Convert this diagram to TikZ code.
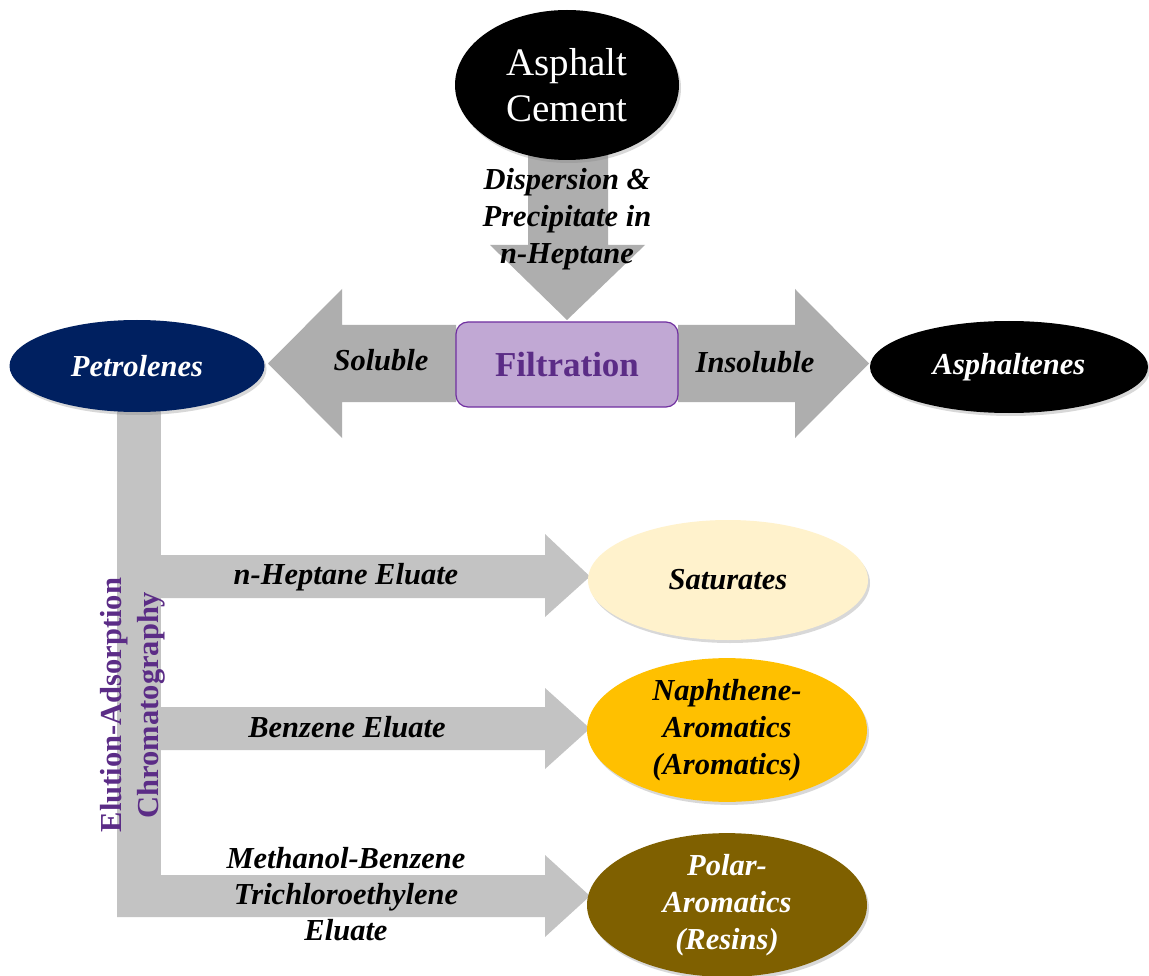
\documentclass[tikz,border=0pt]{standalone}
\usepackage{fontspec}
\setmainfont{Liberation Serif}
\usetikzlibrary{shapes.geometric,shadows}

\definecolor{bigarrow}{HTML}{AEAEAE}
\definecolor{smallarrow}{HTML}{C3C3C3}
\definecolor{navy}{HTML}{002060}
\definecolor{cream}{HTML}{FFF2CC}
\definecolor{amber}{HTML}{FFC000}
\definecolor{olivebrown}{HTML}{7F6000}
\definecolor{lilac}{HTML}{C1A8D4}
\definecolor{plum}{HTML}{7030A0}
\definecolor{plumtext}{HTML}{5B2C86}

\tikzset{
  blob/.style={ellipse, inner sep=0pt, align=center,
    drop shadow={shadow xshift=2pt, shadow yshift=-3pt, opacity=0.3}},
  lab/.style={font=\fontsize{30.5}{37}\selectfont\bfseries\itshape, align=center},
  fatarrow/.style={fill=bigarrow, draw=none},
  eluarrow/.style={fill=smallarrow, draw=none},
}

\begin{document}
\begin{tikzpicture}[x=1pt, y=-1pt]
\useasboundingbox (0,0) rectangle (1149,976);
\fill[white] (0,0) rectangle (1149,976);

% block arrows of the filtration step
\fill[fatarrow] (528,140) -- (608,140) -- (608,245) -- (645,245) -- (567,320)
  -- (490,245) -- (528,245) -- cycle;
\fill[fatarrow] (456,325) -- (342,325) -- (342,289) -- (268,363.5) -- (342,438)
  -- (342,402) -- (456,402) -- cycle;
\fill[fatarrow] (678,325) -- (795,325) -- (795,289) -- (869,363.5) -- (795,438)
  -- (795,402) -- (678,402) -- cycle;

% chromatography column and eluate arrows
\fill[eluarrow] (117,400) rectangle (161,917);
\fill[eluarrow] (161,555) -- (545,555) -- (545,534) -- (590,576.5) -- (545,617)
  -- (545,598) -- (161,598) -- cycle;
\fill[eluarrow] (161,707) -- (545,707) -- (545,688) -- (590,728.5) -- (545,769)
  -- (545,750) -- (161,750) -- cycle;
\fill[eluarrow] (117,875) -- (545,875) -- (545,855) -- (590,896) -- (545,937)
  -- (545,917) -- (117,917) -- cycle;

% nodes
\node[blob, fill=black, minimum width=224pt, minimum height=150pt, text=white,
  font=\fontsize{39}{46}\selectfont] (ac) at (567,85) {Asphalt\\Cement};
\node[draw=plum, line width=1.2pt, fill=lilac, rounded corners=12pt,
  minimum width=222pt, minimum height=85pt, text=plumtext,
  font=\fontsize{35}{40}\selectfont\bfseries] (filt) at (567,364.5) {Filtration};
\node[blob, fill=navy, minimum width=255pt, minimum height=92pt, text=white, lab]
  (pet) at (137,366) {Petrolenes};
\node[blob, fill=black, minimum width=278pt, minimum height=92pt, text=white, lab]
  (asph) at (1009,367) {Asphaltenes};
\node[blob, fill=cream, minimum width=280pt, minimum height=120pt, lab]
  (sat) at (728,580) {Saturates};
\node[blob, fill=amber, minimum width=280pt, minimum height=130pt, lab]
  (nap) at (727,730) {Naphthene-\\Aromatics\\(Aromatics)};
\node[blob, fill=olivebrown, minimum width=280pt, minimum height=142pt, text=white, lab]
  (pol) at (727,905) {Polar-\\Aromatics\\(Resins)};

% labels on the arrows
\node[lab] (disp) at (567,219) {Dispersion \&\\Precipitate in\\n-Heptane};
\node[lab] (sol) at (381,360) {Soluble};
\node[lab] (insol) at (755,362) {Insoluble};
\node[lab] (hep) at (346,577) {n-Heptane Eluate};
\node[lab] (benz) at (347,727) {Benzene Eluate};
\node[lab, font=\fontsize{30.5}{36}\selectfont\bfseries\itshape] (meth) at (346,894)
  {Methanol-Benzene\\Trichloroethylene\\Eluate};
\node[rotate=90, align=center, text=plumtext,
  font=\fontsize{30.5}{37}\selectfont\bfseries] (eac) at (133,705)
  {Elution-Adsorption\\Chromatography};
\end{tikzpicture}
\end{document}
